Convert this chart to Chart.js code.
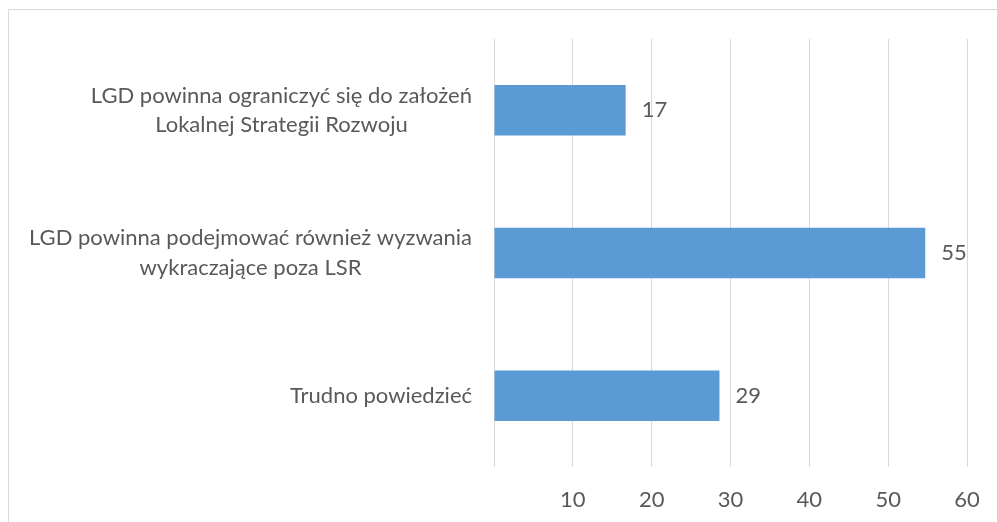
<!DOCTYPE html>
<html lang="pl">
<head>
<meta charset="UTF-8">
<title>LGD</title>
<style>
  body { margin: 0; background: #fff; overflow: hidden; }
  #frame { position: absolute; left: 8px; top: 9px; width: 1200px; height: 700px; border: 1px solid #d9d9d9; }
  #wrap { position: absolute; left: 0; top: 0; width: 997px; height: 522px; }
</style>
</head>
<body>
<div id="frame"></div>
<div id="wrap"><canvas id="chart" width="997" height="522"></canvas></div>
<script src="https://cdn.jsdelivr.net/npm/chart.js"></script>
<script>
  const categories = [
    ['LGD powinna ograniczyć się do założeń', 'Lokalnej Strategii Rozwoju'],
    ['LGD powinna podejmować również wyzwania', 'wykraczające poza LSR'],
    ['Trudno powiedzieć']
  ];
  const values = [16.7, 54.7, 28.6];
  const valueLabels = ['17', '55', '29'];
  const xTicks = [10, 20, 30, 40, 50, 60];

  const TEXT = '#595959';
  const FONT_FAMILY = 'Lato, "Open Sans", sans-serif';
  const FONT_SIZE = 22;
  const LINE_H = 29.5;

  // category labels: lines centred on each other, block right-aligned to the axis
  const labelPlugin = {
    id: 'labels',
    afterDraw(chart) {
      const ctx = chart.ctx;
      const yScale = chart.scales.y;
      const right = chart.chartArea.left - 22;
      ctx.save();
      ctx.font = FONT_SIZE + 'px ' + FONT_FAMILY;
      ctx.fillStyle = TEXT;
      ctx.textBaseline = 'middle';
      ctx.textAlign = 'center';
      categories.forEach((lines, i) => {
        const w = Math.max(...lines.map(l => ctx.measureText(l).width));
        const cx = right - w / 2;
        const cy = yScale.getPixelForTick(i);
        lines.forEach((l, j) => {
          ctx.fillText(l, cx, cy + (j - (lines.length - 1) / 2) * LINE_H);
        });
      });
      ctx.textAlign = 'left';
      chart.getDatasetMeta(0).data.forEach((bar, i) => {
        ctx.fillText(valueLabels[i], bar.x + 16, bar.y);
      });
      ctx.restore();
    }
  };

  new Chart(document.getElementById('chart'), {
    type: 'bar',
    data: {
      labels: categories,
      datasets: [{
        data: values,
        backgroundColor: '#5b9bd5',
        barPercentage: 0.354,
        categoryPercentage: 1
      }]
    },
    options: {
      indexAxis: 'y',
      responsive: false,
      animation: false,
      layout: { padding: { top: 39, right: 30, bottom: 0, left: 0 } },
      plugins: { legend: { display: false }, tooltip: { enabled: false } },
      scales: {
        x: {
          min: 0,
          max: 60,
          afterBuildTicks: s => { s.ticks = [0, ...xTicks].map(v => ({ value: v })); },
          ticks: {
            color: TEXT,
            font: { family: FONT_FAMILY, size: FONT_SIZE },
            padding: 20,
            maxRotation: 0,
            callback: v => (xTicks.includes(v) ? String(v) : '')
          },
          grid: { color: '#d9d9d9', lineWidth: 1, drawTicks: false },
          border: { display: false },
          afterFit: s => { s.height = 55; s.paddingLeft = 0; s.paddingRight = 0; }
        },
        y: {
          ticks: { display: false },
          grid: { display: false },
          border: { display: false },
          afterFit: s => { s.width = 494; }
        }
      }
    },
    plugins: [labelPlugin]
  });
</script>
</body>
</html>
